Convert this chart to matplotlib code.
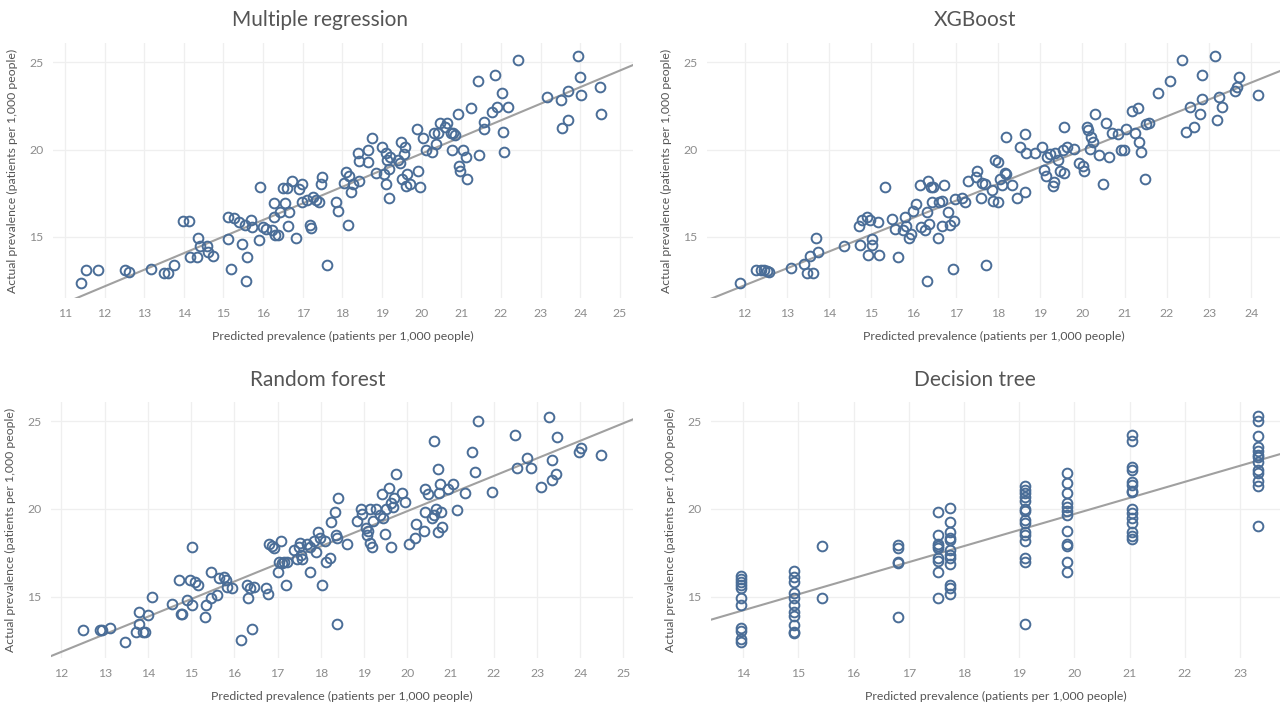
import numpy as np
import matplotlib
matplotlib.use("Agg")
import matplotlib.pyplot as plt

plt.rcParams['font.family'] = ['Lato', 'DejaVu Sans']

# ---- Multiple regression (predicted, actual) ----
mr_pred = [11.41, 11.54, 11.83, 12.52, 12.61, 13.18, 13.49, 13.60, 13.75, 13.98, 14.12, 14.15, 14.33,
           14.36, 14.42, 14.58, 14.61, 14.74, 15.12, 15.12, 15.20, 15.26, 15.40, 15.46, 15.54, 15.58,
           15.60, 15.69, 15.72, 15.90, 15.92, 16.00, 16.07, 16.22, 16.27, 16.28, 16.31, 16.38, 16.42,
           16.51, 16.56, 16.59, 16.62, 16.65, 16.73, 16.83, 16.90, 16.97, 16.99, 17.10, 17.18, 17.20,
           17.26, 17.34, 17.41, 17.45, 17.49, 17.62, 17.85, 17.89, 18.05, 18.08, 18.13, 18.16, 18.21,
           18.26, 18.39, 18.41, 18.43, 18.64, 18.65, 18.74, 18.84, 19.01, 19.05, 19.09, 19.11, 19.13,
           19.17, 19.17, 19.21, 19.39, 19.45, 19.48, 19.50, 19.55, 19.58, 19.60, 19.63, 19.70, 19.88,
           19.91, 19.96, 20.04, 20.12, 20.27, 20.30, 20.37, 20.42, 20.47, 20.58, 20.65, 20.73, 20.76,
           20.80, 20.83, 20.91, 20.94, 20.97, 21.04, 21.12, 21.14, 21.24, 21.45, 21.42, 21.56, 21.58,
           21.78, 21.84, 21.89, 22.02, 22.04, 22.08, 22.18, 22.44, 23.17, 23.52, 23.54, 23.68, 23.70,
           23.94, 23.99, 24.02, 24.50, 24.52]
mr_act = [12.37, 13.08, 13.08, 13.12, 13.00, 13.18, 12.95, 12.95, 13.39, 15.92, 15.92, 13.87, 13.87,
          14.92, 14.48, 14.48, 14.16, 13.91, 14.87, 16.11, 13.14, 16.07, 15.83, 14.58, 15.69, 12.50,
          13.85, 15.96, 15.54, 14.83, 17.88, 15.54, 15.44, 15.38, 16.15, 16.92, 15.12, 15.12, 16.40,
          17.80, 16.92, 17.80, 15.63, 16.44, 18.22, 14.92, 17.74, 18.03, 16.98, 17.11, 15.69, 15.50,
          17.26, 17.11, 16.98, 18.03, 18.42, 13.39, 16.98, 16.46, 18.07, 18.70, 15.69, 18.51, 17.55,
          18.03, 19.80, 19.34, 18.19, 19.28, 19.99, 20.68, 18.65, 20.14, 18.61, 19.80, 18.03, 19.41,
          18.90, 17.23, 19.57, 19.38, 19.22, 20.43, 18.32, 19.76, 20.14, 17.94, 18.61, 18.03, 21.20,
          18.76, 17.88, 20.68, 19.99, 19.86, 20.95, 20.34, 20.95, 21.53, 21.30, 21.53, 20.95, 19.99,
          20.95, 20.82, 22.06, 19.03, 18.76, 19.99, 19.57, 18.32, 22.35, 19.66, 23.94, 21.58, 21.20,
          22.16, 24.27, 22.41, 23.25, 21.01, 19.86, 22.41, 25.10, 23.02, 22.83, 21.26, 21.72, 23.37,
          25.33, 24.17, 23.12, 23.56, 22.06]

# ---- XGBoost ----
xg_pred = [11.90, 12.26, 12.40, 12.47, 12.52, 12.58, 13.10, 13.41, 13.47, 13.54, 13.63, 13.70, 13.74,
           14.36, 14.70, 14.74, 14.79, 14.90, 14.92, 14.96, 15.01, 15.01, 15.15, 15.19, 15.32, 15.49,
           15.56, 15.64, 15.75, 15.79, 15.83, 15.90, 15.93, 16.00, 16.06, 16.15, 16.17, 16.27, 16.31,
           16.32, 16.34, 16.36, 16.41, 16.44, 16.46, 16.58, 16.60, 16.68, 16.68, 16.73, 16.81, 16.87,
           16.93, 16.97, 16.99, 17.16, 17.23, 17.29, 17.47, 17.50, 17.61, 17.63, 17.69, 17.72, 17.86,
           17.89, 17.93, 17.99, 18.01, 18.05, 18.09, 18.16, 18.18, 18.20, 18.34, 18.46, 18.53, 18.63,
           18.64, 18.66, 18.88, 19.04, 19.09, 19.14, 19.17, 19.24, 19.31, 19.33, 19.36, 19.43, 19.48,
           19.53, 19.57, 19.57, 19.63, 19.79, 19.91, 20.01, 20.04, 20.11, 20.14, 20.18, 20.21, 20.24,
           20.30, 20.40, 20.50, 20.56, 20.62, 20.69, 20.85, 20.91, 20.99, 21.04, 21.17, 21.24, 21.32,
           21.34, 21.39, 21.48, 21.51, 21.58, 21.80, 22.07, 22.36, 22.45, 22.55, 22.64, 22.78, 22.84,
           22.84, 23.15, 23.19, 23.23, 23.30, 23.61, 23.65, 23.71, 24.16]
xg_act = [12.37, 13.08, 13.08, 13.08, 13.04, 12.98, 13.20, 13.43, 12.95, 13.91, 12.95, 14.92, 14.16,
          14.48, 15.63, 14.54, 15.96, 16.11, 13.96, 15.96, 14.87, 14.54, 15.83, 13.96, 17.88, 16.02,
          15.44, 13.85, 15.38, 16.11, 15.63, 14.92, 15.15, 16.50, 16.88, 17.99, 15.54, 15.38, 16.40,
          12.50, 18.22, 15.75, 17.84, 16.98, 17.88, 14.92, 16.98, 17.07, 15.63, 17.99, 16.40, 15.69,
          13.14, 15.92, 17.17, 17.23, 16.98, 18.19, 18.42, 18.76, 17.23, 18.07, 18.03, 13.39, 17.69,
          17.07, 19.41, 16.98, 19.28, 18.32, 17.99, 18.65, 20.72, 18.61, 17.99, 17.23, 20.14, 17.55,
          20.91, 19.80, 19.80, 20.14, 18.84, 18.51, 19.57, 19.72, 17.94, 18.13, 19.80, 19.38, 18.76,
          19.99, 18.65, 21.30, 20.14, 20.05, 19.22, 19.03, 18.76, 21.30, 21.10, 20.05, 20.72, 20.43,
          22.06, 19.66, 18.03, 21.53, 19.57, 20.95, 20.91, 19.99, 19.99, 21.20, 22.22, 20.95, 22.35,
          20.43, 19.86, 18.32, 21.49, 21.53, 23.25, 23.94, 25.10, 21.01, 22.41, 21.30, 22.06, 22.87,
          24.27, 25.33, 21.72, 23.02, 22.41, 23.37, 23.56, 24.17, 23.12]

# ---- Random forest ----
rf_pred = [12.49, 12.90, 12.94, 13.13, 13.46, 13.73, 13.79, 13.79, 13.89, 13.94, 14.01, 14.10, 14.55,
           14.72, 14.76, 14.80, 14.91, 14.97, 15.02, 15.02, 15.08, 15.16, 15.33, 15.35, 15.45, 15.46,
           15.61, 15.64, 15.75, 15.80, 15.82, 15.95, 16.15, 16.30, 16.32, 16.36, 16.42, 16.46, 16.74,
           16.77, 16.80, 16.86, 16.91, 17.00, 17.03, 17.07, 17.10, 17.15, 17.19, 17.22, 17.38, 17.45,
           17.50, 17.51, 17.55, 17.57, 17.67, 17.74, 17.76, 17.85, 17.90, 17.93, 17.97, 18.02, 18.09,
           18.11, 18.21, 18.23, 18.33, 18.35, 18.37, 18.37, 18.40, 18.61, 18.83, 18.93, 18.95, 19.04,
           19.06, 19.10, 19.13, 19.14, 19.18, 19.20, 19.27, 19.37, 19.41, 19.44, 19.49, 19.51, 19.57,
           19.62, 19.63, 19.67, 19.70, 19.73, 19.88, 19.95, 20.03, 20.17, 20.20, 20.39, 20.40, 20.42,
           20.48, 20.56, 20.61, 20.62, 20.67, 20.71, 20.71, 20.73, 20.76, 20.78, 20.81, 20.95, 21.05,
           21.14, 21.33, 21.49, 21.56, 21.63, 21.96, 22.50, 22.53, 22.78, 22.87, 23.10, 23.28, 23.35,
           23.35, 23.43, 23.47, 23.97, 24.01, 24.48]
rf_act = [13.10, 13.10, 13.10, 13.20, 12.40, 13.01, 14.11, 13.42, 13.01, 13.01, 13.96, 14.96, 14.56,
          15.95, 13.99, 13.99, 14.81, 15.95, 17.85, 14.53, 15.85, 15.66, 13.86, 14.53, 14.94, 16.42,
          15.09, 16.08, 16.14, 15.95, 15.57, 15.51, 12.53, 15.66, 14.94, 15.51, 13.16, 15.57, 15.47,
          15.13, 17.98, 17.90, 17.79, 16.38, 16.99, 18.17, 16.90, 16.99, 15.66, 16.99, 17.66, 17.14,
          17.85, 18.04, 17.37, 17.14, 17.98, 16.42, 17.85, 18.17, 17.52, 18.70, 18.36, 15.66, 18.17,
          16.99, 17.22, 19.23, 19.80, 18.51, 18.36, 13.42, 20.64, 17.98, 19.31, 20.00, 19.69, 18.89,
          18.51, 18.74, 20.00, 18.04, 17.85, 19.31, 20.00, 19.65, 20.88, 19.46, 18.55, 20.00, 21.20,
          17.85, 20.32, 20.13, 20.64, 22.02, 20.92, 20.40, 17.98, 18.32, 19.17, 18.74, 21.13, 19.85,
          20.88, 19.50, 23.86, 19.65, 20.00, 22.27, 18.70, 20.92, 21.45, 19.85, 18.98, 21.13, 21.45,
          19.94, 20.92, 23.22, 22.12, 25.00, 20.98, 24.20, 22.34, 22.91, 22.34, 21.26, 25.25, 22.78,
          21.64, 22.02, 24.11, 23.25, 23.48, 23.06]

# ---- Decision tree: one predicted value per leaf, actual values per leaf ----
dt_leaves = [13.96, 14.92, 15.43, 16.81, 17.53, 17.75, 19.10, 19.86, 21.04, 23.33]
dt_leaf_actual = [
    [16.20, 16.00, 15.85, 15.65, 15.50, 14.95, 14.50, 13.20, 13.05, 12.60, 12.40],
    [16.45, 16.10, 15.85, 15.20, 14.90, 14.55, 14.10, 13.90, 13.40, 13.00, 12.95],
    [17.86, 14.90],
    [17.95, 17.80, 17.00, 16.90, 13.86],
    [19.82, 18.52, 17.99, 17.86, 17.76, 17.23, 17.04, 16.39, 14.94],
    [20.05, 19.25, 18.71, 18.37, 18.24, 17.67, 17.38, 17.19, 16.85, 15.67, 15.51, 15.13],
    [21.29, 21.10, 20.90, 20.66, 20.43, 20.00, 19.86, 19.38, 19.19, 18.71, 18.52, 18.18, 17.23, 16.96, 13.42],
    [22.05, 21.48, 20.90, 20.33, 20.09, 19.86, 19.63, 18.75, 17.99, 17.86, 17.00, 16.43],
    [24.24, 23.90, 22.37, 22.24, 21.53, 21.38, 21.04, 20.96, 20.00, 19.76, 19.51, 19.19, 18.71, 18.43, 18.29],
    [25.29, 25.04, 24.14, 23.51, 23.29, 23.10, 22.94, 22.68, 22.24, 22.05, 21.61, 21.29, 19.00],
]
dt_pred = [p for p, acts in zip(dt_leaves, dt_leaf_actual) for _ in acts]
dt_act = [a for acts in dt_leaf_actual for a in acts]

titles = ["Multiple regression", "XGBoost", "Random forest", "Decision tree"]
xlabel = "Predicted prevalence (patients per 1,000 people)"
ylabel = "Actual prevalence (patients per 1,000 people)"

MARK = "#4a6d97"
LINE = "#a0a0a0"
GRID = "#efefef"

fig = plt.figure(figsize=(12.82, 7.05), dpi=100)
W, H = 1282, 705

# (left, top, right, bottom) in pixels, xlim, xticks, title centre x/y
panels = [
    (mr_pred, mr_act, (53, 43, 633, 298), (10.70, 25.33), range(11, 26), 320, 20),
    (xg_pred, xg_act, (707, 43, 1280, 298), (11.11, 24.68), range(12, 25), 975, 20),
    (rf_pred, rf_act, (51, 402, 633, 658), (11.76, 25.22), range(12, 26), 318, 380),
    (dt_pred, dt_act, (711, 402, 1280, 658), (13.42, 23.72), range(14, 24), 975, 380),
]

for (px, py, box, xl, xt, tx, ty), title in zip(panels, titles):
    l, t, r, b = box
    ax = fig.add_axes([l / W, 1 - b / H, (r - l) / W, (b - t) / H])
    ax.set_xlim(*xl)
    ax.set_ylim(11.5, 26.1)
    ax.set_xticks(list(xt))
    ax.set_yticks([15, 20, 25])
    ax.grid(True, color=GRID, lw=0.9)
    ax.set_axisbelow(True)
    for s in ax.spines.values():
        s.set_visible(False)
    ax.tick_params(length=0, labelsize=8.8, labelcolor="#8c8c8c", pad=7)

    # trend line (least squares of actual on predicted)
    slope, icpt = np.polyfit(px, py, 1)
    xs = np.array(xl)
    ax.plot(xs, slope * xs + icpt, color=LINE, lw=1.5, zorder=2)

    ax.plot(px, py, 'o', ms=7, mfc='none', mec=MARK, mew=1.4, zorder=3)

    ax.set_xlabel(xlabel, fontsize=8.8, color="#555555", labelpad=9)
    ax.set_ylabel(ylabel, fontsize=8.8, color="#555555", labelpad=8)
    fig.text(tx / W, 1 - ty / H, title, ha='center', va='center', fontsize=15, color="#555555")

fig.savefig("out.png", dpi=100)
